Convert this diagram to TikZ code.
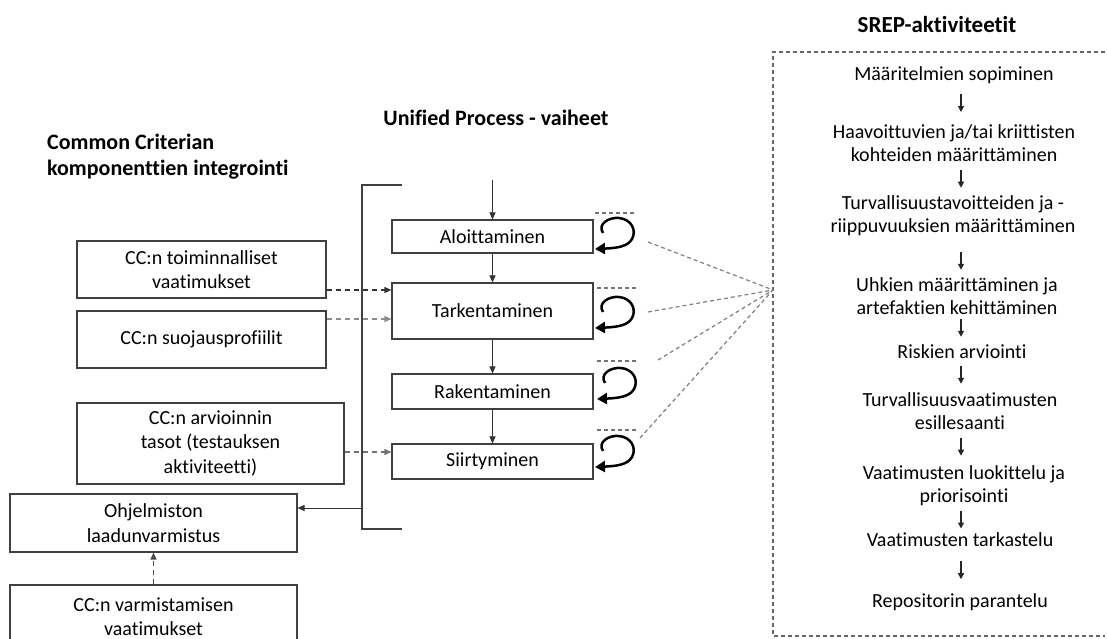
\documentclass[tikz,border=0pt]{standalone}
\usepackage{fontspec}
\setmainfont{Carlito}[Ligatures=NoCommon]
\usetikzlibrary{arrows.meta,calc}

\begin{document}
\begin{tikzpicture}[x=1pt,y=-1pt,
  txt/.style={align=center, inner sep=0pt, font=\fontsize{20}{24.5}\selectfont},
  stxt/.style={align=center, inner sep=0pt, font=\fontsize{20}{23}\selectfont},
  ttl/.style={inner sep=0pt, font=\fontsize{22}{26}\selectfont\bfseries},
  box/.style={txt, draw=black!75, line width=1.1pt},
  flow/.style={draw=black!80, line width=1pt, -{Triangle[length=7pt,width=6pt]}},
  dasharrow/.style={line width=1.3pt, dash pattern=on 5pt off 4pt, -{Triangle[length=7pt,width=6pt]}},
  sarrow/.style={draw=black!85, line width=1.2pt, -{Triangle[length=6pt,width=6pt]}},
  bracketline/.style={draw=black!75, line width=1.1pt},
  looparrow/.style={draw=black, line width=2.5pt, -{Triangle[length=10pt,width=11pt]}},
  capline/.style={draw=black!55, line width=1.2pt, dash pattern=on 4pt off 3pt},
  hubline/.style={draw=black!50, line width=1.2pt, dash pattern=on 4pt off 3pt},
  srepframe/.style={draw=black!60, line width=1.3pt, dash pattern=on 4pt off 3pt},
  cycleloop/.pic={\draw[looparrow] (-14,-1) .. controls (-20,-10) and (-8,-17) .. (2,-16)
      .. controls (14,-15) and (20,-4) .. (15,5) .. controls (11,12) and (2,14) .. (-22,15);}
]
\useasboundingbox (0,0) rectangle (1107,639);
\clip (0,0) rectangle (1107,639);
\fill[white] (0,0) rectangle (1107,639);

% headings
\node[ttl, align=left, anchor=west] (cctitle) at (47,157) {Common Criterian\\komponenttien integrointi};
\node[ttl] (uptitle) at (496,118) {Unified Process - vaiheet};
\node[ttl, font=\fontsize{23}{26}\selectfont\bfseries] (sreptitle) at (937,25) {SREP-aktiviteetit};

% Common Criteria components
\node[box, minimum width=249pt, minimum height=57pt] (toim) at (201.5,269.5) {CC:n toiminnalliset\\vaatimukset};
\node[box, minimum width=249pt, minimum height=57pt] (suoj) at (201.5,339.5) {CC:n suojausprofiilit};
\node[box, minimum width=267pt, minimum height=81pt] (arv) at (210.5,443.5) {CC:n arvioinnin\\tasot (testauksen\\aktiviteetti)};
\node[box, minimum width=287pt, minimum height=58pt] (ohj) at (153.5,523) {Ohjelmiston\\laadunvarmistus};
\node[box, minimum width=287pt, minimum height=63pt] (varm) at (153.5,616.5) {CC:n varmistamisen\\vaatimukset};

% Unified Process phases
\node[box, minimum width=201pt, minimum height=33pt] (alo) at (492.5,236.5) {Aloittaminen};
\node[box, minimum width=201pt, minimum height=56pt] (tark) at (492.5,311) {Tarkentaminen};
\node[box, minimum width=201pt, minimum height=35pt] (rak) at (492.5,391.5) {Rakentaminen};
\node[box, minimum width=201pt, minimum height=35pt] (siirt) at (492.5,461.5) {Siirtyminen};

% bracket around the phases
\draw[bracketline] (402,185) -- (362,185) -- (362,529) -- (402,529);
\coordinate (brk) at (362,508);
\draw[flow] (brk) -- (brk -| ohj.east);

% phase sequence
\coordinate (start) at (492.5,180);
\draw[flow] (start) -- (alo.north);
\draw[flow] (alo.south) -- (tark.north);
\draw[flow] (tark.south) -- (rak.north);
\draw[flow] (rak.south) -- (siirt.north);

% CC inputs
\coordinate (toimout) at ($(toim.east)+(0,20.5)$);
\coordinate (suojout) at ($(suoj.east)+(0,-20.5)$);
\coordinate (arvout) at ($(arv.east)+(0,8.5)$);
\draw[dasharrow, draw=black!80] (toimout) -- (toimout -| tark.west);
\draw[dasharrow, draw=black!45] (suojout) -- (suojout -| tark.west);
\draw[dasharrow, draw=black!55] (arvout) -- (arvout -| siirt.west);
\draw[dasharrow, draw=black!70] (varm.north) -- (ohj.south);

% iteration loops
\pic at (617,234) {cycleloop};
\pic at (617,313) {cycleloop};
\pic at (619,384) {cycleloop};
\pic at (617,452) {cycleloop};
\draw[capline] (595,213) -- (635,213);
\draw[capline] (597,288) -- (637,288);
\draw[capline] (597,361) -- (637,361);
\draw[capline] (597,430) -- (637,430);

% SREP activities
\draw[srepframe] (1105,52) -- (773,52) -- (773,636) -- (1105,636);
\coordinate (hub) at (773,290);
\coordinate (h1) at (648,242);
\coordinate (h2) at (648,312);
\coordinate (h3) at (658,360);
\coordinate (h4) at (640,438);
\foreach \h in {h1,h2,h3,h4} \draw[hubline] (\h) -- (hub);

\node[stxt] (s1) at (954,75) {Määritelmien sopiminen};
\node[stxt] (s2) at (954,143) {Haavoittuvien ja/tai kriittisten\\kohteiden määrittäminen};
\node[stxt] (s3) at (953,216) {Turvallisuustavoitteiden ja -\\riippuvuuksien määrittäminen};
\node[stxt] (s4) at (957,296) {Uhkien määrittäminen ja\\artefaktien kehittäminen};
\node[stxt] (s5) at (962,352) {Riskien arviointi};
\node[stxt] (s6) at (960,411) {Turvallisuusvaatimusten\\esillesaanti};
\node[stxt] (s7) at (964,486) {Vaatimusten luokittelu ja\\priorisointi};
\node[stxt] (s8) at (960,540) {Vaatimusten tarkastelu};
\node[stxt] (s9) at (960,602) {Repositorin parantelu};

\coordinate (ax) at (961,0);
\foreach \a/\b/\o in {s1/s2/-1,s2/s3/0,s3/s4/4,s4/s5/-2,s5/s6/-1,s6/s7/-1,s7/s8/0,s8/s9/0}
  \draw[sarrow] ($(\a.south -| ax)!0.5!(\b.north -| ax)+(0,\o-9)$) -- ++(0,18);
\end{tikzpicture}
\end{document}
